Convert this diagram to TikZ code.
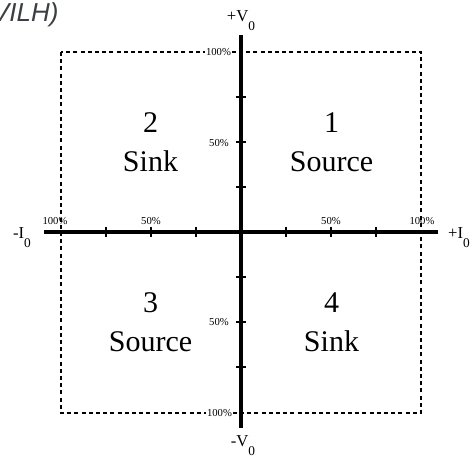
\documentclass[tikz,border=0pt]{standalone}
\usepackage{fontspec}
\setmainfont{Liberation Serif}
\newfontfamily\headfont{Liberation Sans}
\usepackage{xcolor}
\definecolor{headgrey}{RGB}{59,63,68}
\newcommand{\lowsub}[1]{\raisebox{-6.4pt}{\fontsize{10}{12}\selectfont #1}}
\tikzset{every picture/.style={line width=0.75pt}}
\tikzset{
axisline/.style={line width=3pt},
tickline/.style={line width=1.5pt},
boxline/.style={line width=1.1pt, dash pattern={on 3pt off 2.4pt}},
pctlabel/.style={inner sep=0.75pt, font=\fontsize{8}{9}\selectfont},
endlabel/.style={inner sep=0pt, font=\fontsize{12.5}{14}\selectfont},
quadlabel/.style={inner sep=0pt, anchor=base, font=\fontsize{22.5}{27}\selectfont}}

\begin{document}
\begin{tikzpicture}[x=0.75pt,y=0.75pt,yscale=-1,xscale=1]
\useasboundingbox (0,0) rectangle (472,459);
\clip (0,0) rectangle (472,459);

% Text Node
\node (head) [anchor=base east, inner sep=0pt, text=headgrey, font=\headfont\itshape\fontsize{19.5}{22}\selectfont] at (59,22) {(VILH)};

%Shape: Dashed Rectangle
\draw [boxline] (61,52) rectangle (421,413);

%Coordinates of the axes
\coordinate (origin) at (241,232);
\coordinate (ileft) at (44,232);
\coordinate (iright) at (438,232);
\coordinate (vtop) at (241,35);
\coordinate (vbottom) at (241,428);

%Straight Lines
\draw [axisline] (ileft) -- (iright);
\draw [axisline] (vtop) -- (vbottom);

%Ticks
\draw [tickline] (106,227) -- (106,237);
\draw [tickline] (151,227) -- (151,237);
\draw [tickline] (196,227) -- (196,237);
\draw [tickline] (286,227) -- (286,237);
\draw [tickline] (331,227) -- (331,237);
\draw [tickline] (376,227) -- (376,237);
\draw [tickline] (236,97) -- (246,97);
\draw [tickline] (236,142) -- (246,142);
\draw [tickline] (236,187) -- (246,187);
\draw [tickline] (236,277) -- (246,277);
\draw [tickline] (236,322) -- (246,322);
\draw [tickline] (236,367) -- (246,367);

% Text Node
\node (pctleft) [pctlabel] at (55,221) {100\%};
% Text Node
\node (pctlefthalf) [pctlabel] at (151,221) {50\%};
% Text Node
\node (pctrighthalf) [pctlabel] at (331,221) {50\%};
% Text Node
\node (pctright) [pctlabel] at (422,221) {100\%};
% Text Node
\node (pcttop) [pctlabel, fill=white] at (218.5,52) {100\%};
% Text Node
\node (pcttophalf) [pctlabel] at (219,143) {50\%};
% Text Node
\node (pctbottomhalf) [pctlabel] at (219,322) {50\%};
% Text Node
\node (pctbottom) [pctlabel, fill=white] at (219.5,413) {100\%};

% Text Node
\node (vplus) [endlabel, anchor=base] at (241,22) {+V\lowsub{0}};
% Text Node
\node (vminus) [endlabel, anchor=base] at (243,447) {-V\lowsub{0}};
% Text Node
\node (iminus) [endlabel, anchor=base] at (22,238.5) {-I\lowsub{0}};
% Text Node
\node (iplus) [endlabel, anchor=base] at (459,238.5) {+I\lowsub{0}};

% Text Node
\node (quadtwonum) [quadlabel] at (150.5,133) {2};
% Text Node
\node (quadtwo) [quadlabel] at (150.5,172) {Sink};
% Text Node
\node (quadonenum) [quadlabel] at (331.5,133) {1};
% Text Node
\node (quadone) [quadlabel] at (331.5,172) {Source};
% Text Node
\node (quadthreenum) [quadlabel] at (150.5,313) {3};
% Text Node
\node (quadthree) [quadlabel] at (150.5,352) {Source};
% Text Node
\node (quadfournum) [quadlabel] at (331.5,313) {4};
% Text Node
\node (quadfour) [quadlabel] at (331.5,352) {Sink};

\end{tikzpicture}
\end{document}
